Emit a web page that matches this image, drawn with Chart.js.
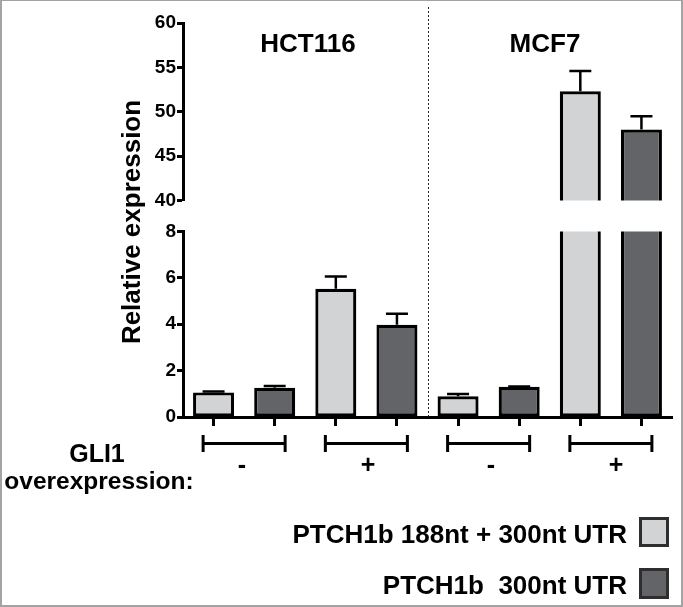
<!DOCTYPE html>
<html><head><meta charset="utf-8">
<script src="https://cdn.jsdelivr.net/npm/chart.js@4.4.1/dist/chart.umd.min.js"></script>
<style>
html,body{margin:0;padding:0;background:#fff;}
#wrap{position:relative;width:683px;height:607px;overflow:hidden;background:#fff;font-family:"Liberation Sans",Arial,sans-serif;font-weight:bold;color:#000;}
canvas{position:absolute;left:0;top:0;}
.t{position:absolute;white-space:pre;line-height:1;}
.box{position:absolute;box-sizing:border-box;border:3px solid #2e2e2e;}
#frame{position:absolute;left:0;top:0;width:683px;height:607px;box-sizing:border-box;border:2px solid #a3a3a3;border-top-width:1px;pointer-events:none;}
</style></head>
<body><div id="wrap">
<canvas id="lower" width="683" height="607"></canvas>
<canvas id="upper" width="683" height="607"></canvas>
<div id="frame"></div>
</div>
<script>
// ---- data ----
const cellLines = ['HCT116', 'MCF7'];
const gli1Levels = ['-', '+'];
const seriesLabels = ['PTCH1b 188nt + 300nt UTR', 'PTCH1b  300nt UTR'];
const seriesColors = ['#d2d3d5', '#636467'];
// order: HCT116 -, HCT116 +, MCF7 -, MCF7 +
const series188Values = [1.06, 5.53, 0.89, 52.3];
const series188Errors = [0.04, 0.53, 0.10, 2.3];
const series300Values = [1.26, 3.98, 1.30, 48.0];
const series300Errors = [0.08, 0.47, 0.02, 1.5];
const lowerTicks = [0, 2, 4, 6, 8];
const upperTicks = [40, 45, 50, 55, 60];
const yTitle = 'Relative expression';
const xTitleLines = ['GLI1', 'overexpression:'];

// ---- build per-bar arrays ----
const categories = [], barValues = [], barErrors = [], barColors = [];
cellLines.forEach((cl, ci) => {
  gli1Levels.forEach((g, gi) => {
    const k = ci * 2 + gi;
    categories.push(cl + ' ' + g + ' ' + seriesLabels[0]);
    barValues.push(series188Values[k]); barErrors.push(series188Errors[k]); barColors.push(seriesColors[0]);
    categories.push(cl + ' ' + g + ' ' + seriesLabels[1]);
    barValues.push(series300Values[k]); barErrors.push(series300Errors[k]); barColors.push(seriesColors[1]);
  });
});

Chart.defaults.font.family = '"Liberation Sans", Arial, sans-serif';
Chart.defaults.color = '#000';

const errorBarPlugin = {
  id: 'errorBars',
  afterDatasetsDraw(chart) {
    const {ctx, chartArea: a} = chart;
    const meta = chart.getDatasetMeta(0);
    const y = chart.scales.y;
    ctx.save();
    ctx.beginPath(); ctx.rect(a.left, a.top, a.right - a.left, a.bottom - a.top); ctx.clip();
    ctx.strokeStyle = '#000'; ctx.lineWidth = 2.5;
    barValues.forEach((v, i) => {
      const e = barErrors[i]; if (!e) return;
      const px = meta.data[i].x;
      const y0 = y.getPixelForValue(v), y1 = y.getPixelForValue(v + e);
      ctx.beginPath();
      ctx.moveTo(px, y0); ctx.lineTo(px, y1);
      ctx.moveTo(px - 11, y1); ctx.lineTo(px + 11, y1);
      ctx.stroke();
    });
    ctx.restore();
  }
};

const annotPlugin = {
  id: 'annot',
  afterDraw(chart) {
    const {ctx, chartArea: a} = chart;
    const x = chart.scales.x;
    const cw = x.width / categories.length;
    ctx.save();
    // dotted separator between cell lines
    const sx = Math.round((x.getPixelForValue(3) + x.getPixelForValue(4)) / 2) + 0.5;
    ctx.strokeStyle = '#222'; ctx.lineWidth = 1; ctx.setLineDash([2, 2]);
    ctx.beginPath(); ctx.moveTo(sx, 7); ctx.lineTo(sx, a.bottom); ctx.stroke();
    ctx.setLineDash([]);
    // brackets for GLI1 groups
    ctx.strokeStyle = '#000'; ctx.lineWidth = 3;
    for (let p = 0; p < categories.length; p += 2) {
      const c = (x.getPixelForValue(p) + x.getPixelForValue(p + 1)) / 2;
      const hw = 0.671 * cw;
      const by = 443.5;
      ctx.beginPath();
      ctx.moveTo(c - hw, by); ctx.lineTo(c + hw, by);
      ctx.moveTo(c - hw, by - 8.5); ctx.lineTo(c - hw, by + 8.5);
      ctx.moveTo(c + hw, by - 8.5); ctx.lineTo(c + hw, by + 8.5);
      ctx.stroke();
    }
    ctx.restore();
  }
};

function makeChart(id, ticksArr, padTop, padBottom, showX, plugins) {
  return new Chart(document.getElementById(id), {
    type: 'bar',
    data: {
      labels: categories,
      datasets: [{
        data: barValues,
        backgroundColor: barColors,
        borderColor: '#000',
        borderWidth: 3.2,
        borderSkipped: false,
        barPercentage: 0.671,
        categoryPercentage: 1,
        clip: 0
      }]
    },
    options: {
      responsive: false,
      animation: false,
      devicePixelRatio: 1,
      layout: {padding: {top: padTop, bottom: padBottom, left: 0, right: 11}},
      plugins: {legend: {display: false}, tooltip: {enabled: false}},
      scales: {
        x: {
          display: showX,
          offset: true,
          grid: {offset: false, drawOnChartArea: false, drawTicks: true, tickLength: 9, tickWidth: 3, tickColor: '#000', color: '#000'},
          border: {display: true, color: '#000', width: 3},
          ticks: {display: false},
          afterFit: s => { s.height = 10; }
        },
        y: {
          min: ticksArr[0], max: ticksArr[ticksArr.length - 1],
          afterBuildTicks: s => { s.ticks = ticksArr.map(v => ({value: v})); },
          grid: {drawOnChartArea: false, drawTicks: true, tickLength: 6, tickWidth: 3, tickColor: '#000', color: '#000'},
          border: {display: true, color: '#000', width: 3},
          ticks: {font: {size: 19, weight: 'bold'}, color: '#000', padding: 1},
          afterFit: s => { s.width = 183; }
        }
      }
    },
    plugins: plugins
  });
}

const lowerChart = makeChart('lower', lowerTicks, 231.5, 180, true, [errorBarPlugin, annotPlugin]);
const upperChart = makeChart('upper', upperTicks, 23, 607 - 210.5, false, [errorBarPlugin]);

// ---- text ----
const wrap = document.getElementById('wrap');
const frame = document.getElementById('frame');
function addText(str, x, baseline, size, align) {
  const d = document.createElement('div');
  d.className = 't';
  d.textContent = str;
  d.style.fontSize = size + 'px';
  d.style.left = x + 'px';
  d.style.top = (baseline - 0.8465 * size) + 'px';
  d.style.transform = align === 'center' ? 'translateX(-50%)' : align === 'right' ? 'translateX(-100%)' : 'none';
  wrap.insertBefore(d, frame);
  return d;
}
addText(cellLines[0], 308, 52, 26, 'center');
addText(cellLines[1], 545, 52, 26, 'center');
addText(xTitleLines[0], 97, 462, 25, 'center');
addText(xTitleLines[1], 99, 490, 24.5, 'center');
const pmX = [242, 368, 491, 616];
pmX.forEach((px, i) => addText(gli1Levels[i % 2], px, 473, 25, 'center'));
addText(seriesLabels[0], 627, 543, 26, 'right');
addText(seriesLabels[1], 627, 594, 26, 'right');
// y title
const yt = document.createElement('div');
yt.className = 't';
yt.textContent = yTitle;
yt.style.fontSize = '26px';
yt.style.left = '131px'; yt.style.top = '222px';
yt.style.transform = 'translate(-50%,-50%) rotate(-90deg)';
wrap.insertBefore(yt, frame);
// legend boxes
[[517, 30], [568, 31]].forEach(([top, h], i) => {
  const b = document.createElement('div');
  b.className = 'box';
  b.style.left = '639px'; b.style.top = top + 'px';
  b.style.width = '30px'; b.style.height = h + 'px';
  b.style.background = seriesColors[i];
  wrap.insertBefore(b, frame);
});
</script>
</body></html>
